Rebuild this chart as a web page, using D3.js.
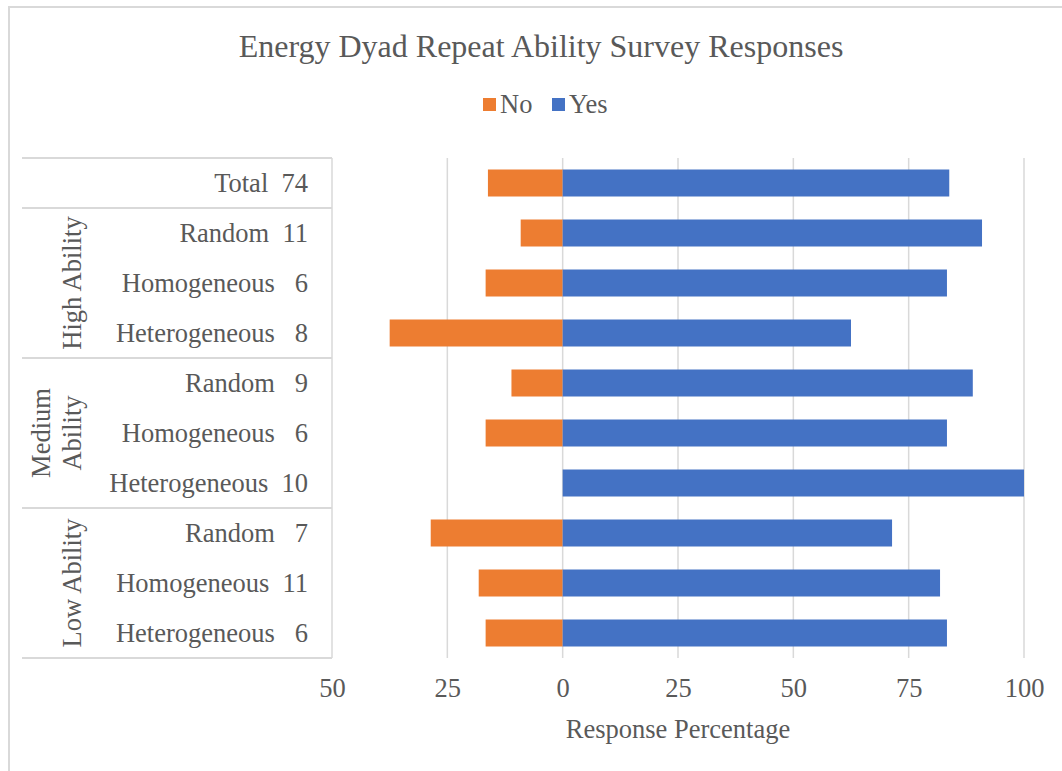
<!DOCTYPE html>
<html>
<head>
<meta charset="utf-8">
<script src="https://cdn.jsdelivr.net/npm/d3@7"></script>
<style>
  body { margin: 0; background: #fff; }
  svg text { font-family: "Liberation Serif", "Times New Roman", serif; fill: #595959; white-space: pre; }
</style>
</head>
<body>
<svg id="chart" width="1062" height="771"></svg>
<script>
// Rows, top to bottom
const rowLabels = ["Total  74", "Random  11", "Homogeneous   6", "Heterogeneous   8",
                   "Random   9", "Homogeneous   6", "Heterogeneous  10",
                   "Random   7", "Homogeneous  11", "Heterogeneous   6"];
const yesPct = [83.8, 90.9, 83.3, 62.5, 88.9, 83.3, 100, 71.4, 81.8, 83.3];
const noPct  = [16.2,  9.1, 16.7, 37.5, 11.1, 16.7,   0, 28.6, 18.2, 16.7];
const groups = [
  { lines: ["High Ability"], from: 1, to: 3 },
  { lines: ["Medium", "Ability"], from: 4, to: 6 },
  { lines: ["Low Ability"], from: 7, to: 9 }
];
const xTicks = [-50, -25, 0, 25, 50, 75, 100];
const seriesNames = ["No", "Yes"];
const seriesColors = ["#ED7D31", "#4472C4"];

const FS = 26.5;
const svg = d3.select("#chart");

// chart frame
svg.append("rect").attr("x", 9).attr("y", 7).attr("width", 1100).attr("height", 800)
  .attr("fill", "none").attr("stroke", "#d9d9d9").attr("stroke-width", 2);

const x = d3.scaleLinear().domain([-50, 100]).range([332, 1024]);
const y = d3.scaleBand().domain(d3.range(rowLabels.length)).range([158, 658]).paddingInner(0.46).paddingOuter(0.23);
const band = d3.scaleBand().domain(d3.range(rowLabels.length)).range([158, 658]);

// vertical gridlines
svg.append("g").selectAll("line").data(xTicks).join("line")
  .attr("x1", d => x(d)).attr("x2", d => x(d))
  .attr("y1", 158).attr("y2", 658)
  .attr("stroke", "#d9d9d9").attr("stroke-width", 1.5);

// bars
svg.append("g").selectAll("rect").data(noPct).join("rect")
  .attr("x", d => x(-d)).attr("width", d => x(0) - x(-d))
  .attr("y", (d, i) => y(i)).attr("height", y.bandwidth())
  .attr("fill", seriesColors[0]);
svg.append("g").selectAll("rect").data(yesPct).join("rect")
  .attr("x", x(0)).attr("width", d => x(d) - x(0))
  .attr("y", (d, i) => y(i)).attr("height", y.bandwidth())
  .attr("fill", seriesColors[1]);

// category table lines
const tableLeft = 22, tableRight = 332;
const hLines = [0, 1, 4, 7, 10].map(i => i < 10 ? band(i) : 658);
svg.append("g").selectAll("line").data(hLines).join("line")
  .attr("x1", tableLeft).attr("x2", tableRight)
  .attr("y1", d => d).attr("y2", d => d)
  .attr("stroke", "#d9d9d9").attr("stroke-width", 2);

// row labels
svg.append("g").selectAll("text").data(rowLabels).join("text")
  .attr("x", 308).attr("y", (d, i) => band(i) + band.bandwidth() / 2)
  .attr("dy", "0.35em").attr("text-anchor", "end")
  .attr("font-size", FS).text(d => d);

// group labels, rotated
groups.forEach(g => {
  const cy = (band(g.from) + band(g.to) + band.bandwidth()) / 2;
  const n = g.lines.length;
  g.lines.forEach((t, k) => {
    const cx = 72 - (n - 1 - k) * 31;
    svg.append("text")
      .attr("transform", `translate(${cx},${cy}) rotate(-90)`)
      .attr("text-anchor", "middle").attr("dy", "0.35em")
      .attr("font-size", FS).text(t);
  });
});

// x axis tick labels
const xAxis = d3.axisBottom(x).tickValues(xTicks).tickSize(0).tickPadding(0)
  .tickFormat(d => Math.abs(d));
const ax = svg.append("g").attr("transform", "translate(0,678)").call(xAxis);
ax.select(".domain").remove();
ax.selectAll("text").attr("font-size", FS).attr("font-family", "Liberation Serif").attr("fill", "#595959");

// axis title
svg.append("text").attr("x", x(25)).attr("y", 738).attr("text-anchor", "middle")
  .attr("font-size", FS).text("Response Percentage");

// title
svg.append("text").attr("x", 541).attr("y", 57).attr("text-anchor", "middle")
  .attr("font-size", 32).text("Energy Dyad Repeat Ability Survey Responses");

// legend
const legendX = [483, 552];
seriesNames.forEach((s, i) => {
  svg.append("rect").attr("x", legendX[i]).attr("y", 98).attr("width", 13).attr("height", 13)
    .attr("fill", seriesColors[i]);
  svg.append("text").attr("x", legendX[i] + 17).attr("y", 113)
    .attr("font-size", FS).text(s);
});
</script>
</body>
</html>
